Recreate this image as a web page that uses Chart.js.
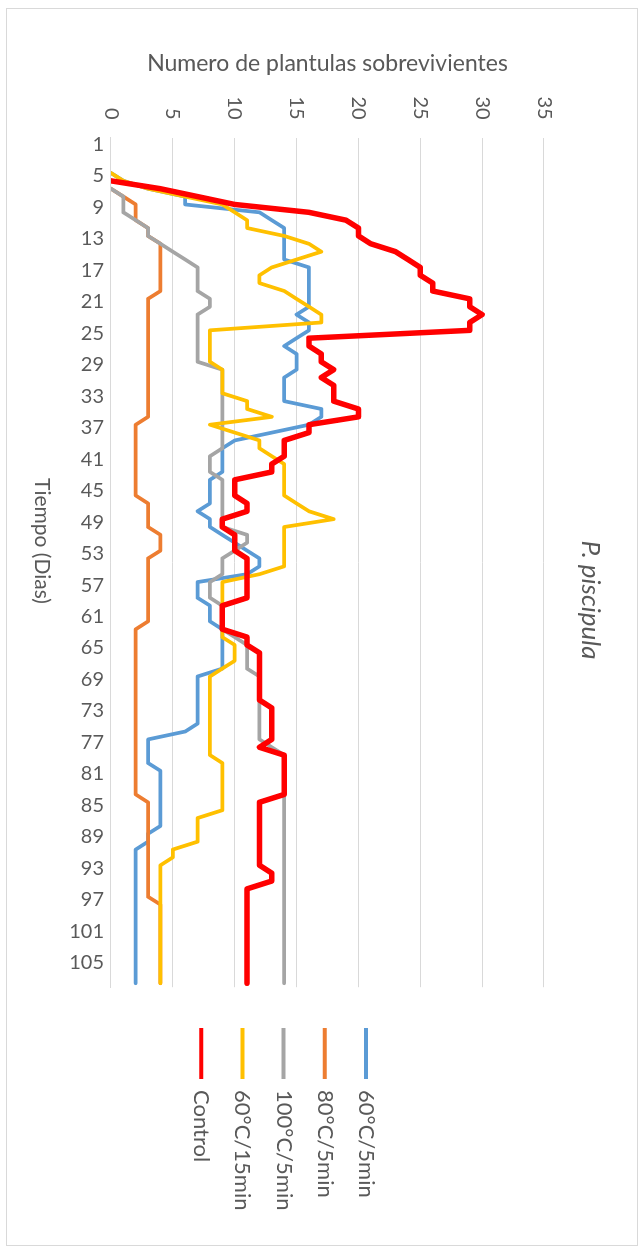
<!DOCTYPE html>
<html>
<head>
<meta charset="utf-8">
<script src="https://cdn.jsdelivr.net/npm/chart.js@4.4.1/dist/chart.umd.min.js"></script>
<style>
  html, body { margin: 0; padding: 0; background: #ffffff; }
  body { width: 644px; height: 1250px; position: relative; overflow: hidden; }
  #frame { position: absolute; left: 6px; top: 8px; width: 630px; height: 1236px; border: 1px solid #d9d9d9; }
  /* the chart is laid out landscape and turned a quarter turn clockwise */
  #turn { position: absolute; left: 0; top: 0; width: 1250px; height: 644px;
          transform-origin: 0 0; transform: translate(644px, 0) rotate(90deg); }
</style>
</head>
<body>
<div id="frame"></div>
<div id="turn"><canvas id="chart" width="1250" height="644"></canvas></div>
<script>
// Days of observation (category axis)
const days = [
  1,2,3,4,5,6,7,8,9,10,11,12,13,14,15,16,17,18,19,20,
  21,22,23,24,25,26,27,28,29,30,31,32,33,34,35,36,37,38,39,40,
  41,42,43,44,45,46,47,48,49,50,51,52,53,54,55,56,57,58,59,60,
  61,62,63,64,65,66,67,68,69,70,71,72,73,74,75,76,77,78,79,80,
  81,82,83,84,85,86,87,88,89,90,91,92,93,94,95,96,97,98,99,100,
  101,102,103,104,105,106,107,108
];

// Surviving seedlings per treatment, one value per day
const control = [
  null,null,null,null,null,0,4,7,10,16,
  19,20,20,21,23,24,25,25,26,26,
  29,29,30,29,29,16,16,17,17,18,
  17,18,18,18,20,20,16,16,14,14,
  14,13,13,10,10,10,11,11,9,9,
  10,10,10,11,11,11,11,11,11,9,
  9,9,9,11,11,12,12,12,12,12,
  12,12,13,13,13,13,13,12,14,14,
  14,14,14,14,12,12,12,12,12,12,
  12,12,12,13,13,11,11,11,11,11,
  11,11,11,11,11,11,11,11
];
const heat60x15 = [
  null,null,null,null,0,1,3,6,9,10,
  11,11,14,16,17,15,13,12,12,14,
  15,16,17,17,8,8,8,8,8,9,
  9,9,9,11,11,13,8,10,12,12,
  13,14,14,14,14,14,15,16,18,14,
  14,14,14,14,14,12,9,9,9,9,
  9,9,9,9,10,10,10,9,8,8,
  8,8,8,8,8,8,8,8,8,9,
  9,9,9,9,9,9,7,7,7,7,
  5,5,4,4,4,4,4,4,4,4,
  4,4,4,4,4,4,4,4
];
const heat100x5 = [
  null,null,null,null,null,null,0,1,1,1,
  2,3,3,4,5,6,7,7,7,7,
  8,8,7,7,7,7,7,7,7,9,
  9,9,9,9,9,9,9,9,9,9,
  8,8,8,9,9,9,9,9,9,9,
  11,11,10,9,9,9,8,8,8,9,
  9,9,9,10,11,11,11,11,12,12,
  12,12,12,12,12,12,12,13,14,14,
  14,14,14,14,14,14,14,14,14,14,
  14,14,14,14,14,14,14,14,14,14,
  14,14,14,14,14,14,14,14
];
const heat80x5 = [
  null,null,null,null,null,null,0,1,2,2,
  2,3,3,4,4,4,4,4,4,4,
  3,3,3,3,3,3,3,3,3,3,
  3,3,3,3,3,3,2,2,2,2,
  2,2,2,2,2,2,3,3,3,3,
  4,4,4,3,3,3,3,3,3,3,
  3,3,2,2,2,2,2,2,2,2,
  2,2,2,2,2,2,2,2,2,2,
  2,2,2,2,3,3,3,3,3,3,
  3,3,3,3,3,3,3,4,4,4,
  4,4,4,4,4,4,4,4
];
const heat60x5 = [
  null,null,null,null,0,1,3,6,6,12,
  13,14,14,14,14,14,16,16,16,16,
  16,16,15,16,16,15,14,15,15,15,
  14,14,14,14,17,17,16,13,10,9,
  9,9,9,8,8,8,8,7,8,8,
  9,10,11,12,12,11,7,7,7,8,
  8,8,9,9,9,9,9,9,7,7,
  7,7,7,7,7,6,3,3,3,3,
  4,4,4,4,4,4,4,4,3,3,
  2,2,2,2,2,2,2,2,2,2,
  2,2,2,2,2,2,2,2
];

const seriesNames = ['Control', '60°C/15min', '100°C/5min', '80°C/5min', '60°C/5min'];
const valueTicks = { min: 0, max: 35, step: 5 };

const INK = '#595959';
const GRID = '#d9d9d9';
Chart.defaults.font.family = 'Lato, "Open Sans", sans-serif';
Chart.defaults.color = INK;

// Plot frame inside the landscape canvas
const AREA = { left: 137.6, right: 987.2, top: 100, bottom: 533 };

// Free-standing texts: chart title and the time-axis caption
const chartTexts = {
  id: 'chartTexts',
  afterDraw(chart) {
    const c = chart.ctx;
    c.save();
    c.fillStyle = INK;
    c.textAlign = 'center';
    c.textBaseline = 'middle';
    c.font = '21px Lato';
    c.fillText('Tiempo (Dias)', 541, 602);
    c.font = 'italic 26px Lato';
    c.fillText('P. piscipula', 600, 54);
    c.restore();
  }
};

// Legend column sits to the right of the plot
const legendPlacer = {
  id: 'legendPlacer',
  afterLayout(chart) {
    const lg = chart.legend;
    const pad = lg.options.labels.padding;
    const w = lg.width, h = lg.height;
    lg.left = 1028 - pad;
    lg.right = lg.left + w;
    lg.top = 267 - pad;
    lg.bottom = lg.top + h;
  }
};

const thin = 3.75;
new Chart(document.getElementById('chart'), {
  type: 'line',
  data: {
    labels: days,
    datasets: [
      { label: seriesNames[0], data: control,   borderColor: '#ff0000', backgroundColor: '#ff0000', borderWidth: 5.5 },
      { label: seriesNames[1], data: heat60x15, borderColor: '#ffc000', backgroundColor: '#ffc000', borderWidth: thin },
      { label: seriesNames[2], data: heat100x5, borderColor: '#a5a5a5', backgroundColor: '#a5a5a5', borderWidth: thin },
      { label: seriesNames[3], data: heat80x5,  borderColor: '#ed7d31', backgroundColor: '#ed7d31', borderWidth: thin },
      { label: seriesNames[4], data: heat60x5,  borderColor: '#5b9bd5', backgroundColor: '#5b9bd5', borderWidth: thin }
    ]
  },
  options: {
    responsive: false,
    animation: false,
    events: [],
    layout: { padding: { left: 0, top: AREA.top, right: 1250 - AREA.right, bottom: 0 } },
    elements: {
      line: { tension: 0, fill: false, borderJoinStyle: 'round', borderCapStyle: 'round' },
      point: { radius: 0, hoverRadius: 0 }
    },
    scales: {
      x: {
        type: 'category',
        offset: true,
        grid: { display: false },
        border: { display: true, color: GRID, width: 1 },
        ticks: {
          autoSkip: false, minRotation: 90, maxRotation: 90, padding: -1, labelOffset: 3,
          font: { size: 20 }, color: INK,
          callback(value, index) { return index % 4 === 0 ? this.getLabelForValue(value) : ''; }
        },
        afterFit(scale) { scale.height = 644 - AREA.bottom; }
      },
      y: {
        min: valueTicks.min, max: valueTicks.max,
        grid: { color: GRID, lineWidth: 1, drawTicks: false },
        border: { display: false },
        ticks: { stepSize: valueTicks.step, padding: 18, font: { size: 20 }, color: INK },
        title: {
          display: true, text: 'Numero de plantulas sobrevivientes',
          font: { size: 23 }, color: INK, padding: { top: 50, bottom: 0 }
        },
        afterFit(scale) { scale.width = AREA.left; }
      }
    },
    plugins: {
      legend: {
        position: 'chartArea',
        align: 'start',
        reverse: true,
        labels: {
          boxWidth: 51, boxHeight: 4, padding: 19.2,
          font: { size: 22 }, color: INK,
          generateLabels(chart) {
            const items = Chart.defaults.plugins.legend.labels.generateLabels(chart);
            items.forEach(it => { it.fillStyle = it.strokeStyle; it.lineWidth = 0; });
            return items;
          }
        }
      },
      title: { display: false },
      tooltip: { enabled: false }
    }
  },
  plugins: [chartTexts, legendPlacer]
});
</script>
</body>
</html>
